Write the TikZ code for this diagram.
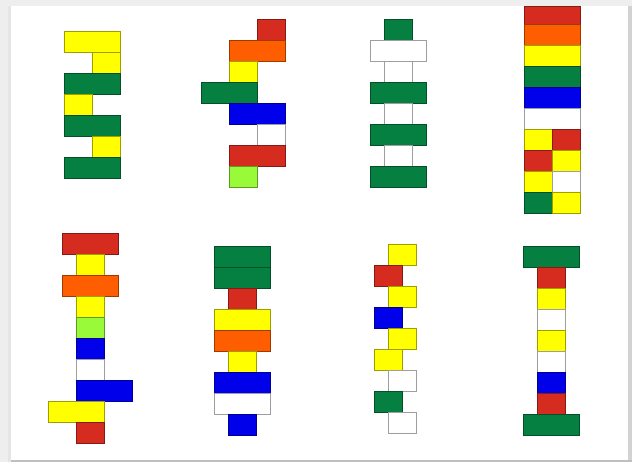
\documentclass[tikz,border=0pt]{standalone}
\usepackage{tikz}
\definecolor{legored}{RGB}{214,44,32}
\definecolor{legoorange}{RGB}{255,94,0}
\definecolor{legoyellow}{RGB}{255,255,0}
\definecolor{legogreen}{RGB}{6,128,64}
\definecolor{legoblue}{RGB}{0,0,235}
\definecolor{legolime}{RGB}{152,250,56}
\definecolor{pagegray}{RGB}{238,238,238}

\begin{document}
\begin{tikzpicture}[x=1pt,y=-1pt,
    brick/.style={draw=#1!62!black,fill=#1,line width=0.7pt}]
    \useasboundingbox (0,0) rectangle (632,462);
    % page
    \fill[pagegray] (0,0) rectangle (632,462);
    \fill[white] (11,6) rectangle (628,460);
    \fill[gray!35] (628,6) rectangle (632,462);
    \fill[gray!50] (11,460) rectangle (632,462);
    \fill[gray!20] (8,6) rectangle (11,462);
    % tower 1
    \draw[brick=legoyellow] (64,31) rectangle (120,52);
    \draw[brick=legoyellow] (92,52) rectangle (120,73);
    \draw[brick=legogreen] (64,73) rectangle (120,94);
    \draw[brick=legoyellow] (64,94) rectangle (92,115);
    \draw[brick=legogreen] (64,115) rectangle (120,136);
    \draw[brick=legoyellow] (92,136) rectangle (120,157);
    \draw[brick=legogreen] (64,157) rectangle (120,178);
    % tower 2
    \draw[brick=legored] (257,19) rectangle (285,40);
    \draw[brick=legoorange] (229,40) rectangle (285,61);
    \draw[brick=legoyellow] (229,61) rectangle (257,82);
    \draw[brick=legogreen] (201,82) rectangle (257,103);
    \draw[brick=legoblue] (229,103) rectangle (285,124);
    \draw[brick=white] (257,124) rectangle (285,145);
    \draw[brick=legored] (229,145) rectangle (285,166);
    \draw[brick=legolime] (229,166) rectangle (257,187);
    % tower 3
    \draw[brick=legogreen] (384,19) rectangle (412,40);
    \draw[brick=white] (370,40) rectangle (426,61);
    \draw[brick=white] (384,61) rectangle (412,82);
    \draw[brick=legogreen] (370,82) rectangle (426,103);
    \draw[brick=white] (384,103) rectangle (412,124);
    \draw[brick=legogreen] (370,124) rectangle (426,145);
    \draw[brick=white] (384,145) rectangle (412,166);
    \draw[brick=legogreen] (370,166) rectangle (426,187);
    % tower 4
    \draw[brick=legored] (524,6) rectangle (580,24);
    \draw[brick=legoorange] (524,24) rectangle (580,45);
    \draw[brick=legoyellow] (524,45) rectangle (580,66);
    \draw[brick=legogreen] (524,66) rectangle (580,87);
    \draw[brick=legoblue] (524,87) rectangle (580,108);
    \draw[brick=white] (524,108) rectangle (580,129);
    \draw[brick=legoyellow] (524,129) rectangle (552,150);
    \draw[brick=legored] (552,129) rectangle (580,150);
    \draw[brick=legored] (524,150) rectangle (552,171);
    \draw[brick=legoyellow] (552,150) rectangle (580,171);
    \draw[brick=legoyellow] (524,171) rectangle (552,192);
    \draw[brick=white] (552,171) rectangle (580,192);
    \draw[brick=legogreen] (524,192) rectangle (552,213);
    \draw[brick=legoyellow] (552,192) rectangle (580,213);
    % tower 5
    \draw[brick=legored] (62,233) rectangle (118,254);
    \draw[brick=legoyellow] (76,254) rectangle (104,275);
    \draw[brick=legoorange] (62,275) rectangle (118,296);
    \draw[brick=legoyellow] (76,296) rectangle (104,317);
    \draw[brick=legolime] (76,317) rectangle (104,338);
    \draw[brick=legoblue] (76,338) rectangle (104,359);
    \draw[brick=white] (76,359) rectangle (104,380);
    \draw[brick=legoblue] (76,380) rectangle (132,401);
    \draw[brick=legoyellow] (48,401) rectangle (104,422);
    \draw[brick=legored] (76,422) rectangle (104,443);
    % tower 6
    \draw[brick=legogreen] (214,246) rectangle (270,267);
    \draw[brick=legogreen] (214,267) rectangle (270,288);
    \draw[brick=legored] (228,288) rectangle (256,309);
    \draw[brick=legoyellow] (214,309) rectangle (270,330);
    \draw[brick=legoorange] (214,330) rectangle (270,351);
    \draw[brick=legoyellow] (228,351) rectangle (256,372);
    \draw[brick=legoblue] (214,372) rectangle (270,393);
    \draw[brick=white] (214,393) rectangle (270,414);
    \draw[brick=legoblue] (228,414) rectangle (256,435);
    % tower 7
    \draw[brick=legoyellow] (388,244) rectangle (416,265);
    \draw[brick=legored] (374,265) rectangle (402,286);
    \draw[brick=legoyellow] (388,286) rectangle (416,307);
    \draw[brick=legoblue] (374,307) rectangle (402,328);
    \draw[brick=legoyellow] (388,328) rectangle (416,349);
    \draw[brick=legoyellow] (374,349) rectangle (402,370);
    \draw[brick=white] (388,370) rectangle (416,391);
    \draw[brick=legogreen] (374,391) rectangle (402,412);
    \draw[brick=white] (388,412) rectangle (416,433);
    % tower 8
    \draw[brick=legogreen] (523,246) rectangle (579,267);
    \draw[brick=legored] (537,267) rectangle (565,288);
    \draw[brick=legoyellow] (537,288) rectangle (565,309);
    \draw[brick=white] (537,309) rectangle (565,330);
    \draw[brick=legoyellow] (537,330) rectangle (565,351);
    \draw[brick=white] (537,351) rectangle (565,372);
    \draw[brick=legoblue] (537,372) rectangle (565,393);
    \draw[brick=legored] (537,393) rectangle (565,414);
    \draw[brick=legogreen] (523,414) rectangle (579,435);
\end{tikzpicture}
\end{document}
